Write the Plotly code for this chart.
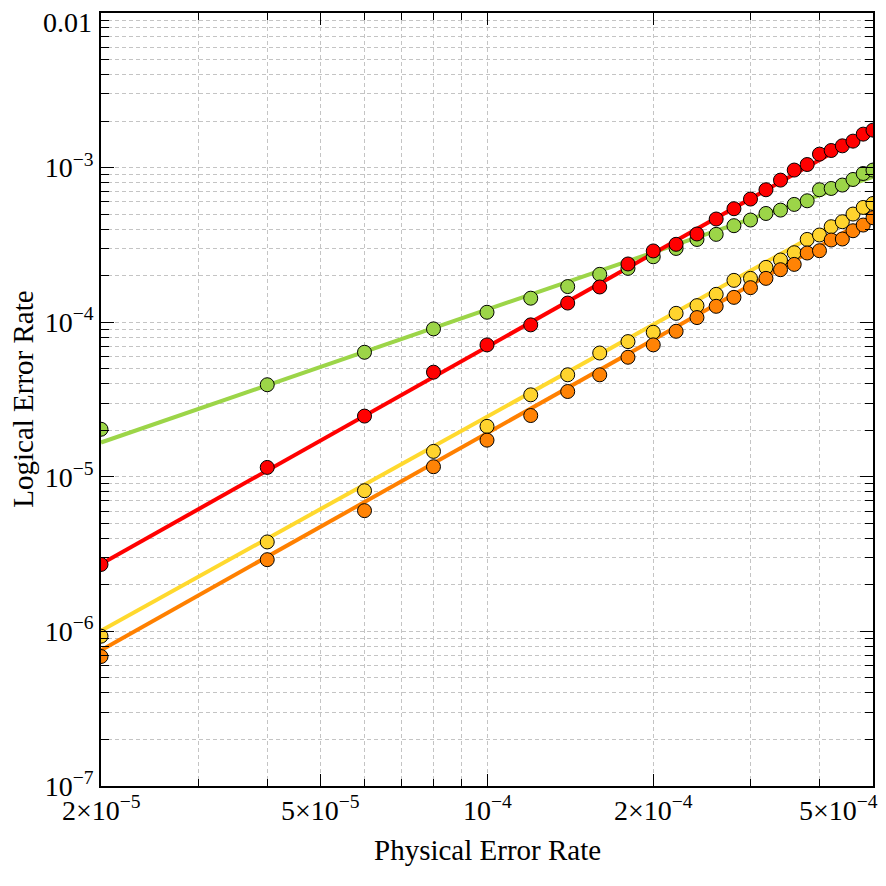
import math
import plotly.graph_objects as go

# ---- data ----
phys = [2e-5, 4e-5, 6e-5, 8e-5, 1.0e-4, 1.2e-4, 1.4e-4, 1.6e-4, 1.8e-4, 2.0e-4,
        2.2e-4, 2.4e-4, 2.6e-4, 2.8e-4, 3.0e-4, 3.2e-4, 3.4e-4, 3.6e-4, 3.8e-4,
        4.0e-4, 4.2e-4, 4.4e-4, 4.6e-4, 4.8e-4, 5.0e-4]

green = [2.03e-5, 3.94e-5, 6.39e-5, 9.05e-5, 1.16e-4, 1.43e-4, 1.70e-4, 2.04e-4,
         2.23e-4, 2.65e-4, 3.00e-4, 3.43e-4, 3.70e-4, 4.21e-4, 4.58e-4, 5.05e-4,
         5.31e-4, 5.78e-4, 6.10e-4, 7.19e-4, 7.33e-4, 7.71e-4, 8.38e-4, 9.16e-4,
         9.64e-4]
red = [2.71e-6, 1.15e-5, 2.47e-5, 4.75e-5, 7.13e-5, 9.61e-5, 1.33e-4, 1.69e-4,
       2.38e-4, 2.89e-4, 3.19e-4, 3.72e-4, 4.65e-4, 5.42e-4, 6.26e-4, 7.19e-4,
       8.30e-4, 9.64e-4, 1.047e-3, 1.222e-3, 1.29e-3, 1.383e-3, 1.483e-3,
       1.646e-3, 1.747e-3]
yellow = [9.31e-7, 3.79e-6, 8.13e-6, 1.46e-5, 2.12e-5, 3.39e-5, 4.57e-5, 6.32e-5,
          7.49e-5, 8.61e-5, 1.141e-4, 1.28e-4, 1.514e-4, 1.865e-4, 1.921e-4,
          2.263e-4, 2.526e-4, 2.815e-4, 3.431e-4, 3.664e-4, 4.146e-4, 4.466e-4,
          5.006e-4, 5.524e-4, 5.862e-4]
orange = [6.88e-7, 2.91e-6, 6.04e-6, 1.162e-5, 1.726e-5, 2.491e-5, 3.562e-5,
          4.567e-5, 5.934e-5, 7.134e-5, 8.735e-5, 1.071e-4, 1.267e-4, 1.448e-4,
          1.673e-4, 1.921e-4, 2.186e-4, 2.366e-4, 2.803e-4, 2.90e-4, 3.401e-4,
          3.452e-4, 3.905e-4, 4.25e-4, 4.739e-4]

# fitted lines (end values)
fit_x = [2e-5, 5e-4]
fit_green = [1.667e-5, 8.72e-4]
fit_red = [2.73e-6, 1.754e-3]
fit_yellow = [1.01e-6, 5.92e-4]
fit_orange = [7.56e-7, 4.85e-4]

x_major = [2e-5, 5e-5, 1e-4, 2e-4, 5e-4]
x_labels = ["2×10<sup>−5</sup>", "5×10<sup>−5</sup>", "10<sup>−4</sup>",
            "2×10<sup>−4</sup>", "5×10<sup>−4</sup>"]
x_minor = [3e-5, 4e-5, 6e-5, 7e-5, 8e-5, 9e-5, 3e-4, 4e-4]

y_major = [1e-7, 1e-6, 1e-5, 1e-4, 1e-3]
y_labels = ["10<sup>−7</sup>", "10<sup>−6</sup>", "10<sup>−5</sup>",
            "10<sup>−4</sup>", "10<sup>−3</sup>"]
y_top_label = "0.01"
y_minor = [m * 10.0 ** k for k in range(-7, -2) for m in range(2, 10)]

colors = {
    "green": ("#9CD548", "#9CD548"),
    "red": ("#FF0000", "#FF0000"),
    "yellow": ("#FFD92E", "#FFD42E"),
    "orange": ("#FF8000", "#FF8305"),
}

FONT = "Liberation Serif, Times New Roman, serif"

fig = go.Figure()

series = [("green", green, fit_green), ("red", red, fit_red),
          ("yellow", yellow, fit_yellow), ("orange", orange, fit_orange)]

for name, vals, fit in series:
    fig.add_trace(go.Scatter(x=fit_x, y=fit, mode="lines",
                             line=dict(color=colors[name][0], width=4),
                             showlegend=False, hoverinfo="skip"))
for name, vals, fit in series:
    fig.add_trace(go.Scatter(x=phys, y=vals, mode="markers",
                             marker=dict(size=14, color=colors[name][1],
                                         line=dict(color="black", width=1)),
                             showlegend=False))

grid_col = "#c4c4c4"
grid_dash = "4px,3px"

fig.update_xaxes(
    type="log", range=[math.log10(2e-5), math.log10(5e-4)],
    tickmode="array", tickvals=x_major,
    showticklabels=False,
    ticks="inside", ticklen=12, tickwidth=1.3, tickcolor="black",
    showgrid=True, gridcolor=grid_col, griddash=grid_dash, gridwidth=1.2,
    showline=True, linecolor="black", linewidth=1.8, mirror="allticks",
    zeroline=False,
    minor=dict(tickvals=x_minor, ticks="inside", ticklen=7, tickwidth=1.3,
               tickcolor="black", showgrid=True, gridcolor=grid_col,
               griddash=grid_dash, gridwidth=1.2),
)
fig.update_yaxes(
    type="log", range=[-7.00001, -1.99999],
    tickmode="array", tickvals=y_major, ticktext=y_labels,
    ticks="inside", ticklen=13, tickwidth=1.3, tickcolor="black",
    tickfont=dict(family=FONT, size=28, color="black"),
    showgrid=True, gridcolor=grid_col, griddash=grid_dash, gridwidth=1.2,
    showline=True, linecolor="black", linewidth=1.8, mirror="allticks",
    zeroline=False,
    minor=dict(tickvals=y_minor, ticks="inside", ticklen=8, tickwidth=1.3,
               tickcolor="black", showgrid=True, gridcolor=grid_col,
               griddash=grid_dash, gridwidth=1.2),
)

annotations = []
for i, (v, t) in enumerate(zip(x_major, x_labels)):
    last = i == len(x_major) - 1
    annotations.append(dict(
        x=math.log10(v), y=0, xref="x", yref="paper", text=t,
        showarrow=False, yanchor="top", xanchor="right" if last else "center",
        xshift=7 if last else 0, yshift=-3,
        font=dict(family=FONT, size=28, color="black")))
annotations.append(dict(
    x=0, y=1, xref="paper", yref="paper", text=y_top_label,
    showarrow=False, xanchor="right", yanchor="top", xshift=-7, yshift=8,
    font=dict(family=FONT, size=28, color="black")))
annotations.append(dict(
    x=0.5, y=-0.083, xref="paper", yref="paper", text="Physical Error Rate",
    showarrow=False, xanchor="center", yanchor="middle",
    font=dict(family=FONT, size=29, color="black")))
annotations.append(dict(
    x=-0.102, y=0.5, xref="paper", yref="paper", text="Logical Error Rate",
    showarrow=False, xanchor="center", yanchor="middle", textangle=-90,
    font=dict(family=FONT, size=29, color="black")))

fig.update_layout(
    width=886, height=886,
    margin=dict(l=101, r=12, t=11, b=100),
    paper_bgcolor="white", plot_bgcolor="white",
    annotations=annotations,
    showlegend=False,
)

fig.write_html("out.html")
